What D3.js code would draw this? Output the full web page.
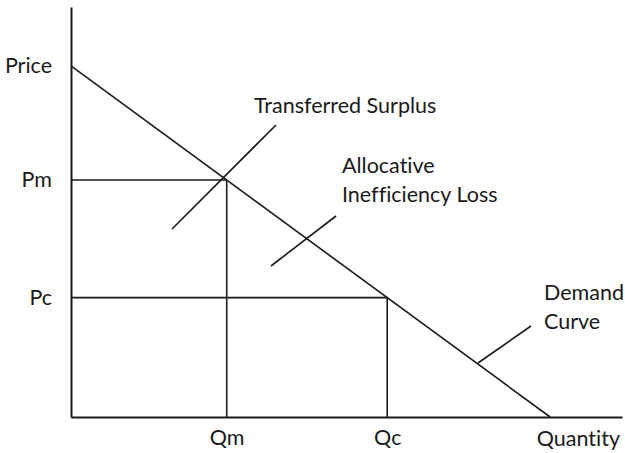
<!DOCTYPE html>
<html>
<head>
<meta charset="utf-8">
<script src="https://cdn.jsdelivr.net/npm/d3@7"></script>
<style>
  html, body { margin: 0; padding: 0; background: #fff; }
  svg { display: block; }
  text { font-family: Lato, "Open Sans", sans-serif; fill: #1a1a1a; font-variant-ligatures: none; font-feature-settings: "liga" 0; }
</style>
</head>
<body>
<svg id="chart" width="625" height="453"></svg>
<script>
// ---- data ----
const demandQuantities = [0, 10];
const demandPrices = [10, 0];
const quantityMarks = [3.25, 6.6];
const quantityLabels = ["Qm", "Qc"];
const priceMarks = [10, 6.75, 3.4];
const priceLabels = ["Price", "Pm", "Pc"];
const xAxisTitle = "Quantity";
const annotationTexts = [["Transferred Surplus"], ["Allocative", "Inefficiency Loss"], ["Demand", "Curve"]];

// ---- drawing ----
const svg = d3.select("#chart");
const x = d3.scaleLinear().domain([0, 11.5]).range([71, 622]);
const y = d3.scaleLinear().domain([0, 11.68]).range([417, 7]);
const ink = "#1a1a1a";
const fs = 21.5;

const demand = demandQuantities.map((q, i) => ({q, p: demandPrices[i]}));
const priceAt = q => d3.scaleLinear().domain(demandQuantities).range(demandPrices)(q);

// guide lines from axes to the demand curve
const g = svg.append("g").attr("stroke", ink).attr("stroke-width", 1.6);
quantityMarks.forEach(q => {
  const p = priceAt(q);
  g.append("line").attr("x1", x(0)).attr("x2", x(q)).attr("y1", y(p)).attr("y2", y(p));
  g.append("line").attr("x1", x(q)).attr("x2", x(q)).attr("y1", y(p)).attr("y2", y(0));
});

// demand curve
svg.append("path")
  .datum(demand)
  .attr("fill", "none").attr("stroke", ink).attr("stroke-width", 1.6)
  .attr("d", d3.line().x(d => x(d.q)).y(d => y(d.p)));

// axes
const xAxis = d3.axisBottom(x).tickValues(quantityMarks)
  .tickFormat((d, i) => quantityLabels[i]).tickSize(0).tickSizeOuter(0).tickPadding(13);
const yAxis = d3.axisLeft(y).tickValues(priceMarks)
  .tickFormat((d, i) => priceLabels[i]).tickSize(0).tickSizeOuter(0).tickPadding(19);

[svg.append("g").attr("transform", `translate(0,${y(0)})`).call(xAxis),
 svg.append("g").attr("transform", `translate(${x(0)},0)`).call(yAxis)].forEach(a => {
  a.select(".domain").attr("stroke", ink).attr("stroke-width", 2);
  a.selectAll("text").attr("font-size", fs).attr("font-family", "Lato, 'Open Sans', sans-serif").attr("fill", ink);
});

svg.append("text").attr("x", 620).attr("y", 446).attr("text-anchor", "end")
  .attr("font-size", fs).text(xAxisTitle);

// annotations: pointer lines and their labels
const pointers = [
  {x1: 172, y1: 229, x2: 276, y2: 125, tx: 254, ty: 113},
  {x1: 271, y1: 266, x2: 336, y2: 216, tx: 342, ty: 173},
  {x1: 478, y1: 363, x2: 531, y2: 326, tx: 544, ty: 300}
];
pointers.forEach((p, i) => {
  svg.append("line").attr("x1", p.x1).attr("y1", p.y1).attr("x2", p.x2).attr("y2", p.y2)
    .attr("stroke", ink).attr("stroke-width", 1.6);
  const t = svg.append("text").attr("x", p.tx).attr("y", p.ty).attr("font-size", fs);
  annotationTexts[i].forEach((line, j) => {
    t.append("tspan").attr("x", p.tx).attr("dy", j === 0 ? 0 : 28.5).text(line);
  });
});
</script>
</body>
</html>
